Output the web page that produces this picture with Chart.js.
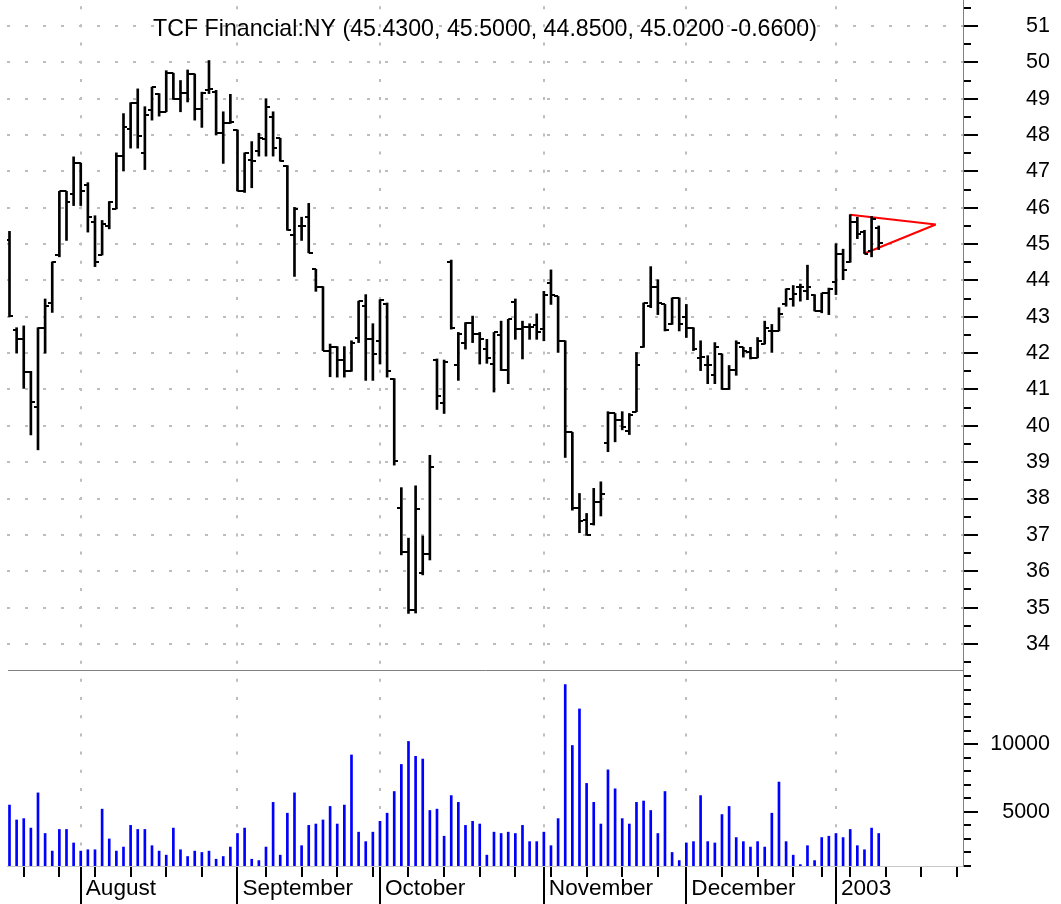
<!DOCTYPE html>
<html>
<head>
<meta charset="utf-8">
<title>TCF Financial:NY</title>
<script src="https://cdn.jsdelivr.net/npm/chart.js"></script>
<style>
  html, body { margin: 0; padding: 0; background: #fff; }
  #grafico { display: block; }
</style>
</head>
<body>
<canvas id="grafico" width="1061" height="904"></canvas>
<script>
// one entry per trading day: index 0 = 18 Jul 2002 ... index 122 = 10 Jan 2003
const openP = [
  45.10, 42.65, 42.40, 41.48, 40.51, 42.70, 43.39, 44.70, 46.45, 46.37,
  47.23, 46.63, 45.60, 44.70, 45.50, 45.97, 47.43, 48.16, 48.89, 47.50,
  48.69, 49.14, 48.64, 49.70, 49.00, 49.17, 49.68, 48.73, 49.25, 49.18,
  48.05, 48.32, 48.14, 46.46, 47.30, 47.55, 47.90, 48.50, 47.91, 47.16,
  45.24, 45.49, 45.74, 44.31, 43.83, 42.07, 42.18, 41.81, 41.52, 42.43,
  43.29, 42.40, 42.34, 43.34, 41.30, 37.75, 36.52, 34.93, 35.96, 36.47,
  41.80, 40.62, 44.50, 41.66, 42.29, 42.84, 42.52, 42.11, 41.70, 42.50,
  41.54, 43.40, 42.66, 42.72, 42.77, 42.66, 43.93, 43.56, 42.34, 39.82,
  37.75, 37.40, 37.30, 37.90, 39.52, 40.34, 40.16, 39.87, 40.39, 42.18,
  43.30, 43.81, 43.34, 42.81, 43.52, 42.99, 42.70, 41.87, 41.66, 41.39,
  41.98, 41.02, 41.54, 42.16, 42.02, 41.87, 42.25, 42.60, 42.61, 43.34,
  43.50, 43.81, 43.70, 43.61, 43.17, 43.65, 43.97, 44.74, 44.50, 45.62,
  45.33, 44.80, 45.43
];
const highP = [
  45.35, 42.70, 42.75, 41.50, 42.70, 43.49, 44.51, 46.45, 46.45, 47.40,
  47.23, 46.69, 45.78, 45.65, 46.17, 47.51, 48.59, 48.89, 49.27, 48.78,
  49.32, 49.14, 49.77, 49.70, 49.50, 49.79, 49.68, 49.18, 50.05, 49.23,
  48.64, 49.12, 48.14, 47.51, 47.82, 48.05, 49.00, 48.64, 47.91, 47.16,
  46.01, 45.74, 46.12, 44.31, 43.83, 42.25, 42.18, 42.18, 42.34, 43.43,
  43.61, 42.81, 43.47, 43.38, 41.30, 38.30, 36.91, 38.35, 36.97, 39.19,
  41.84, 41.81, 44.56, 42.57, 42.84, 43.02, 42.57, 42.38, 42.57, 42.88,
  42.93, 43.49, 42.88, 42.81, 43.08, 43.70, 44.29, 43.56, 42.34, 39.82,
  38.14, 37.59, 38.28, 38.46, 40.39, 40.34, 40.39, 40.34, 42.02, 43.38,
  44.38, 44.02, 43.34, 43.52, 43.52, 43.34, 42.70, 42.34, 41.93, 42.29,
  41.98, 41.66, 42.34, 42.16, 42.16, 42.43, 42.88, 42.79, 43.25, 43.77,
  43.86, 43.90, 44.42, 43.61, 43.65, 43.79, 45.01, 44.86, 45.81, 45.74,
  45.38, 45.76, 45.50
];
const lowP = [
  43.00, 42.00, 41.03, 39.75, 39.34, 42.00, 43.12, 44.65, 45.10, 46.06,
  46.06, 45.33, 44.38, 44.70, 45.42, 45.97, 47.01, 47.64, 47.64, 47.05,
  48.41, 48.52, 48.64, 48.98, 48.64, 48.91, 48.41, 48.21, 49.14, 48.00,
  47.22, 48.32, 46.46, 46.42, 46.55, 47.42, 47.42, 47.42, 47.28, 45.38,
  44.11, 45.10, 44.76, 43.70, 42.07, 41.35, 41.34, 41.34, 41.50, 42.29,
  41.25, 41.25, 41.70, 41.34, 38.92, 36.45, 34.84, 34.85, 35.90, 36.31,
  40.45, 40.34, 42.66, 41.25, 42.11, 42.29, 41.70, 41.72, 40.93, 41.52,
  41.16, 42.38, 41.84, 42.38, 42.38, 42.34, 43.34, 42.02, 39.13, 37.68,
  37.06, 36.99, 37.27, 37.52, 39.29, 39.56, 39.89, 39.76, 40.39, 42.16,
  43.25, 43.06, 42.61, 42.79, 42.61, 42.43, 42.07, 41.52, 41.16, 41.16,
  41.00, 41.00, 41.39, 41.89, 41.84, 41.87, 42.25, 42.02, 42.61, 43.29,
  43.29, 43.43, 43.47, 43.16, 43.11, 43.06, 43.61, 44.02, 44.50, 45.15,
  44.74, 44.65, 44.85
];
const closeP = [
  43.02, 42.40, 41.48, 40.66, 42.70, 43.30, 44.50, 46.45, 46.17, 47.23,
  46.45, 45.74, 44.52, 45.56, 46.17, 47.43, 48.21, 48.89, 47.96, 48.55,
  49.32, 48.64, 49.70, 49.00, 49.17, 49.68, 48.73, 49.17, 49.27, 48.05,
  48.32, 48.35, 46.46, 47.51, 47.28, 47.91, 48.76, 47.64, 47.28, 45.38,
  45.97, 45.49, 44.76, 43.83, 42.07, 42.18, 41.81, 41.52, 42.29, 43.43,
  42.40, 41.98, 43.47, 41.52, 39.03, 36.52, 34.93, 37.70, 36.47, 38.86,
  40.82, 41.75, 42.70, 42.52, 42.84, 42.52, 42.38, 41.87, 42.57, 41.54,
  42.93, 42.66, 42.72, 42.72, 42.57, 43.61, 43.61, 42.34, 39.82, 37.75,
  37.38, 37.00, 37.91, 38.12, 40.36, 40.16, 39.98, 40.31, 41.66, 43.38,
  43.81, 43.38, 42.63, 43.52, 42.79, 42.70, 42.11, 41.90, 41.66, 42.18,
  41.02, 41.54, 42.29, 42.07, 41.87, 42.34, 42.70, 42.61, 43.08, 43.77,
  43.63, 43.81, 43.81, 43.17, 43.65, 43.77, 44.74, 44.29, 45.62, 45.29,
  44.74, 45.68, 45.02
];
const volume = [
  5500, 4400, 4500, 3800, 6400, 3400, 2100, 3700, 3700, 2700,
  2100, 2200, 2200, 5200, 3000, 2100, 2400, 4000, 3700, 3700,
  2500, 2100, 1800, 3800, 2200, 1700, 2100, 2000, 2100, 1500,
  1700, 2400, 3400, 3800, 1500, 1400, 2400, 5700, 1800, 4900,
  6400, 2500, 4000, 4100, 4400, 5400, 4100, 5500, 9200, 3500,
  2800, 3500, 4300, 4900, 6500, 8500, 10200, 9100, 8900, 5100,
  5200, 3200, 6200, 5700, 4000, 4300, 4100, 1800, 3500, 3400,
  3500, 3400, 4000, 2800, 2800, 3500, 2500, 4500, 14400, 9900,
  12600, 7100, 5700, 4100, 8100, 6700, 4500, 4100, 5700, 5800,
  5100, 3400, 6500, 2000, 1400, 2700, 2800, 6200, 2800, 2700,
  4800, 5400, 3100, 2800, 2400, 2800, 2400, 4900, 7200, 2800,
  1800, 1100, 2500, 1400, 3100, 3200, 3400, 3100, 3700, 2500,
  2200, 3800, 3400
];

// symmetrical triangle (bar index, price)
const triUpperX = [118, 130];
const triUpperY = [45.81, 45.54];
const triLowerX = [120, 130];
const triLowerY = [44.74, 45.54];

// x axis: first trading day of each month, and Mondays (incl. future weeks)
const monthIdx = [10, 32, 52, 75, 95, 116];
const monthLabels = ['August', 'September', 'October', 'November', 'December', '2003'];
const mondayIdx = [2, 7, 12, 17, 22, 27, 36, 41, 46, 51, 56, 61, 66, 71, 76, 81, 86, 91,
                   100, 105, 110, 114, 118, 123, 128, 133];

const titleText = 'TCF Financial:NY (45.4300, 45.5000, 44.8500, 45.0200 -0.6600)';

const priceTicks = [];
for (let v = 33.5; v <= 51.5; v += 0.5) priceTicks.push(v);
const volTicks = [];
for (let v = 1000; v <= 15000; v += 1000) volTicks.push(v);
const volLabels = [5000, 10000];
const xTicks = mondayIdx.concat(monthIdx).sort((a, b) => a - b);

const fontFam = "'Liberation Sans', Arial, sans-serif";
const dotColor = '#bdbdbd';

// little open / close flags for the OHLC bars
function tickImg(side) {
    const c = document.createElement('canvas');
    c.width = 8;
    c.height = 2;
    const g = c.getContext('2d');
    g.fillStyle = '#000';
    g.fillRect(side === 'left' ? 0 : 4, 0, 4, 2);
    return c;
}

const isMonth = c => c.tick && monthIdx.includes(c.tick.value);
const isInt = c => c.tick && Number.isInteger(c.tick.value);

// thin grey line between price and volume panes
const separator = {
    id: 'separator',
    afterDraw(chart) {
        const a = chart.chartArea;
        const y = Math.round(chart.scales.yv.top) + 0.5;
        const g = chart.ctx;
        g.save();
        g.strokeStyle = '#808080';
        g.lineWidth = 1;
        g.beginPath();
        g.moveTo(a.left + 1, y);
        g.lineTo(a.right, y);
        g.stroke();
        g.restore();
    }
};

const idx = openP.map((_, i) => i);

new Chart(document.getElementById('grafico'), {
    type: 'bar',
    data: {
        datasets: [
            {
                type: 'bar',
                label: 'Volume',
                yAxisID: 'yv',
                data: idx.map(i => ({ x: i, y: volume[i] })),
                backgroundColor: '#0000ff',
                barThickness: 2,
                grouped: false
            },
            {
                type: 'bar',
                label: 'High-Low',
                yAxisID: 'y',
                data: idx.map(i => ({ x: i, y: [lowP[i], highP[i]] })),
                backgroundColor: '#000',
                barThickness: 2,
                grouped: false
            },
            {
                type: 'scatter',
                label: 'Open',
                yAxisID: 'y',
                data: idx.map(i => ({ x: i, y: openP[i] })),
                pointStyle: tickImg('left'),
                pointRadius: 2
            },
            {
                type: 'scatter',
                label: 'Close',
                yAxisID: 'y',
                data: idx.map(i => ({ x: i, y: closeP[i] })),
                pointStyle: tickImg('right'),
                pointRadius: 2
            },
            {
                type: 'line',
                label: 'Triangle upper',
                yAxisID: 'y',
                data: triUpperX.map((x, k) => ({ x: x, y: triUpperY[k] })),
                borderColor: '#ff0000',
                borderWidth: 2,
                pointRadius: 0,
                fill: false
            },
            {
                type: 'line',
                label: 'Triangle lower',
                yAxisID: 'y',
                data: triLowerX.map((x, k) => ({ x: x, y: triLowerY[k] })),
                borderColor: '#ff0000',
                borderWidth: 2,
                pointRadius: 0,
                fill: false
            }
        ]
    },
    options: {
        responsive: false,
        animation: false,
        devicePixelRatio: 1,
        events: [],
        layout: { autoPadding: false, padding: { left: 7, right: 11, top: 0, bottom: 0 } },
        plugins: {
            legend: { display: false },
            tooltip: { enabled: false },
            title: {
                display: true,
                text: titleText,
                fullSize: false,
                color: '#000',
                font: { family: fontFam, size: 23.2, weight: 'normal', lineHeight: 1.2 },
                padding: { top: 15.3, bottom: -43.14 }
            }
        },
        scales: {
            x: {
                type: 'linear',
                offset: false,
                min: -0.35,
                max: 133.83,
                afterBuildTicks: s => { s.ticks = xTicks.map(v => ({ value: v })); },
                afterFit: s => { s.height = 38; s.paddingLeft = 0; s.paddingRight = 0; },
                grid: {
                    offset: false,
                    color: dotColor,
                    lineWidth: c => isMonth(c) ? 2 : 0,
                    tickLength: 38,
                    tickWidth: 2,
                    tickColor: '#000',
                    tickBorderDash: c => isMonth(c) ? [] : [10, 60]
                },
                border: { display: true, color: '#c8c8c8', width: 1, dash: [3, 15.18], dashOffset: 12 },
                ticks: {
                    autoSkip: false,
                    maxRotation: 0,
                    minRotation: 0,
                    align: 'start',
                    labelOffset: 5,
                    padding: -29,
                    color: '#000',
                    font: { family: fontFam, size: 22.6 },
                    callback: v => {
                        const k = monthIdx.indexOf(v);
                        return k >= 0 ? monthLabels[k] : '';
                    }
                }
            },
            y: {
                type: 'linear',
                position: 'right',
                stack: 'panes',
                stackWeight: 670,
                min: 33.283,
                max: 51.715,
                afterBuildTicks: s => { s.ticks = priceTicks.map(v => ({ value: v })); },
                afterFit: s => { s.width = 87; s.paddingTop = 0; s.paddingBottom = 0; },
                grid: {
                    color: dotColor,
                    lineWidth: c => isInt(c) ? 2 : 0,
                    tickLength: 15,
                    tickWidth: 2,
                    tickColor: '#000',
                    tickBorderDash: c => isInt(c) ? [] : [7, 30]
                },
                border: { display: true, color: '#808080', width: 1, dash: [3, 15], dashOffset: 0 },
                ticks: {
                    autoSkip: false,
                    crossAlign: 'far',
                    color: '#000',
                    font: { family: fontFam, size: 21.5 },
                    callback: v => Number.isInteger(v) ? String(v) : ''
                }
            },
            yv: {
                type: 'linear',
                position: 'right',
                stack: 'panes',
                stackWeight: 196,
                min: 1000,
                max: 15476,
                afterBuildTicks: s => { s.ticks = volTicks.map(v => ({ value: v })); },
                afterFit: s => { s.width = 87; s.paddingTop = 0; s.paddingBottom = 0; },
                grid: {
                    drawOnChartArea: false,
                    lineWidth: 2,
                    tickLength: 15,
                    tickWidth: 2,
                    tickColor: '#000',
                    tickBorderDash: c => (c.tick && volLabels.includes(c.tick.value)) ? [] : [7, 30]
                },
                border: { display: true, color: '#808080', width: 1 },
                ticks: {
                    autoSkip: false,
                    crossAlign: 'far',
                    color: '#000',
                    font: { family: fontFam, size: 21.5 },
                    callback: v => volLabels.includes(v) ? String(v) : ''
                }
            }
        }
    },
    plugins: [separator]
});
</script>
</body>
</html>
